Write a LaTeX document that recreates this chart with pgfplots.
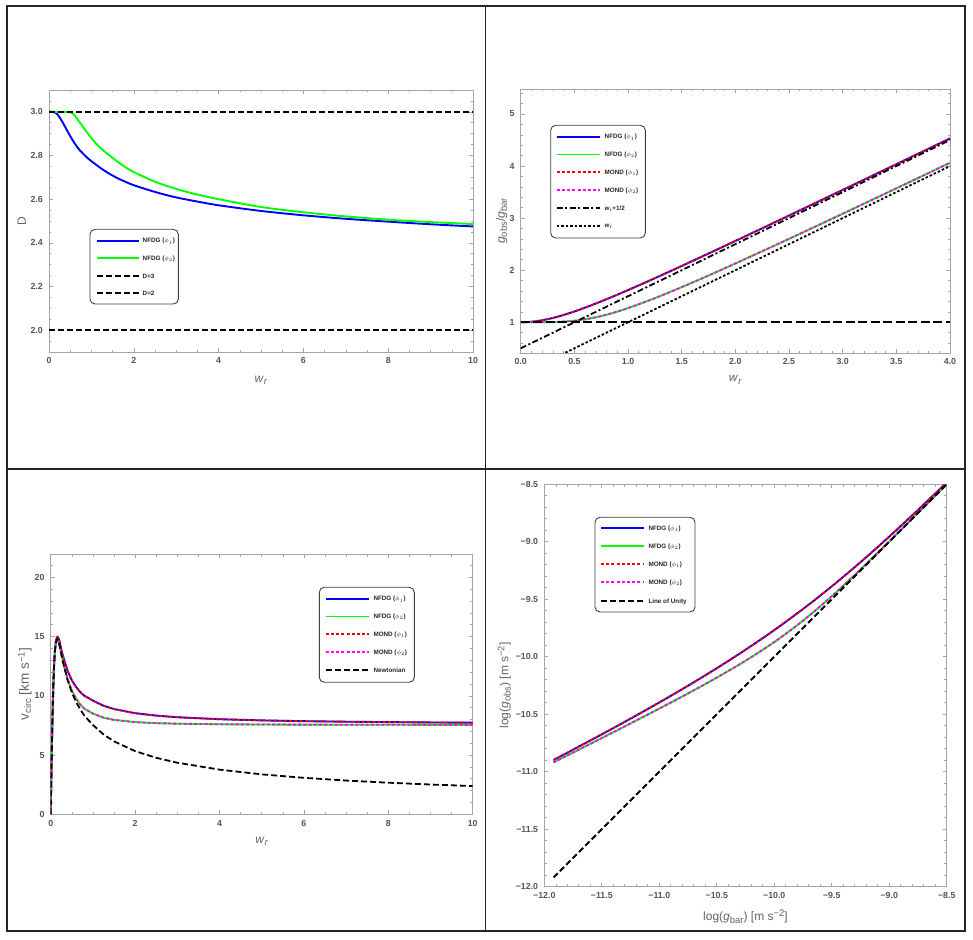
\documentclass[border=0pt]{standalone}
\usepackage{pgfplots}
\usepackage{pgfplotstable}
\pgfplotsset{compat=1.18}
\usepackage{fontspec}
\setmainfont{Liberation Sans}

\definecolor{tickgray}{RGB}{85,85,85}
\definecolor{labgray}{RGB}{100,100,100}
\definecolor{framegray}{RGB}{165,165,165}
\definecolor{mblue}{RGB}{0,0,255}
\definecolor{mgreen}{RGB}{0,255,0}
\definecolor{mred}{RGB}{255,0,0}
\definecolor{mmag}{RGB}{255,0,255}

\newcommand{\sbs}[1]{\raisebox{-2.2pt}{\fontsize{9.5}{10}\selectfont #1}}
\newcommand{\sps}[1]{\raisebox{4.2pt}{\fontsize{9.5}{10}\selectfont #1}}
\newcommand{\wsub}{\textit{w}\sbs{\textit{r}}}
\newcommand{\wsubs}{\textit{w}\textsubscript{\textit{r}}}
\newcommand{\legfont}{\fontsize{6.3}{7}\selectfont\bfseries}

\tikzset{
  tblue/.style={color=mblue, line width=1.9pt},
  tgreen/.style={color=mgreen, line width=1.9pt},
  tred/.style={color=mred, line width=1.8pt, dash pattern=on 3pt off 2.2pt},
  tmag/.style={color=mmag, line width=1.8pt, dash pattern=on 3pt off 2.2pt},
  tdash/.style={color=black, line width=1.8pt, dash pattern=on 6pt off 3pt},
  tdashdot/.style={color=black, line width=1.8pt, dash pattern=on 6pt off 2.5pt on 2pt off 2.5pt},
  tdot/.style={color=black, line width=1.8pt, dash pattern=on 2.5pt off 2pt},
}
% legend row: line start x, line end x, text x, row centre y (image coords, y down), style, text
\newcommand{\legrow}[6]{%
  \draw[#5] ({#1*1pt},{(939-#4)*1pt}) -- ({#2*1pt},{(939-#4)*1pt});
  \node[anchor=base west, inner sep=0pt, font=\legfont, text=black!85] at ({#3*1pt},{(939-#4-2.3)*1pt}) {#6};
}
\newcommand{\legbox}[4]{%
  \draw[black!75, line width=0.9pt, rounded corners=5pt, fill=white]
    ({#1*1pt},{(939-#2)*1pt}) rectangle ({#3*1pt},{(939-#4)*1pt});
}

\pgfplotsset{
  mma/.style={
    scale only axis, anchor=south west, no markers,
    axis line style={framegray, line width=0.7pt},
    every tick/.style={framegray, line width=0.6pt},
    major tick length=4pt, minor tick length=2.3pt,
    tick label style={font=\fontsize{8.8}{10}\selectfont\bfseries, text=tickgray, inner sep=0pt},
    xticklabel style={yshift=-5.5pt},
    yticklabel style={xshift=-6pt},
    label style={font=\fontsize{12}{14}\selectfont, text=labgray},
  },
}

% ---------- Panel 1 : D vs w_r ----------
\pgfplotstableread{
w D
0 3.000
0.10 2.999
0.15 2.996
0.20 2.988
0.25 2.975
0.30 2.959
0.35 2.942
0.40 2.924
0.50 2.889
0.60 2.857
0.70 2.830
0.80 2.809
0.90 2.790
1.00 2.774
1.25 2.738
1.50 2.708
1.75 2.684
2.00 2.664
2.50 2.633
3.00 2.608
3.50 2.589
4.00 2.572
5.00 2.546
6.00 2.526
7.00 2.510
8.00 2.497
9.00 2.485
10.0 2.475
}\DblueTab

\pgfplotstableread{
w D
0 3.000
0.40 3.000
0.45 2.9995
0.50 2.998
0.55 2.994
0.60 2.985
0.65 2.972
0.70 2.958
0.77 2.940
0.85 2.918
0.93 2.897
1.00 2.880
1.10 2.857
1.25 2.828
1.50 2.789
1.75 2.753
2.00 2.724
2.50 2.680
3.00 2.647
3.50 2.621
4.00 2.600
5.00 2.564
6.00 2.540
7.00 2.521
8.00 2.506
9.00 2.495
10.0 2.486
}\DgreenTab

% ---------- Panel 2 : g_obs/g_bar vs w_r ----------
\pgfplotstableread{
w nu1 nu2
0.0 1.00000 1.00000
0.1 1.00990 1.00005
0.2 1.03852 1.00080
0.3 1.08310 1.00401
0.4 1.14031 1.01241
0.5 1.20711 1.02909
0.6 1.28102 1.05647
0.7 1.36023 1.09548
0.8 1.44340 1.14550
0.9 1.52956 1.20495
1.0 1.61803 1.27202
1.2 1.80000 1.42279
1.4 1.98661 1.58832
1.6 2.17631 1.76306
1.8 2.36815 1.94380
2.0 2.56155 2.12864
2.5 3.04951 2.60191
3.0 3.54138 3.08446
3.5 4.03553 3.57214
4.0 4.53113 4.06298
}\nuTab

% ---------- Panel 3 : rotation curves ----------
\pgfplotstableread{
w vN v1 v2
0 0 0 0
0.005 1.073 1.073 1.073
0.02 4.200 4.201 4.200
0.04 7.840 7.846 7.840
0.06 10.640 10.659 10.640
0.08 12.560 12.600 12.560
0.10 13.760 13.828 13.760
0.12 14.430 14.532 14.431
0.14 14.730 14.871 14.731
0.157 14.800 14.977 14.802
0.18 14.680 14.909 14.684
0.20 14.450 14.726 14.456
0.25 13.550 13.944 13.563
0.30 12.720 13.238 12.745
0.40 11.350 12.120 11.420
0.50 10.300 11.317 10.449
0.60 9.500 10.752 9.765
0.70 8.850 10.322 9.263
0.80 8.320 9.996 8.905
0.90 7.930 9.807 8.705
1.00 7.543 9.595 8.507
1.25 6.747 9.168 8.161
1.50 6.159 8.885 7.971
2.00 5.334 8.537 7.782
2.50 4.771 8.332 7.696
3.00 4.355 8.195 7.649
4.00 3.771 8.027 7.601
5.00 3.373 7.928 7.580
6.00 3.079 7.862 7.568
7.00 2.851 7.817 7.562
8.00 2.667 7.783 7.558
9.00 2.514 7.754 7.554
10.0 2.385 7.733 7.551
}\vcTab

% ---------- Panel 4 : RAR ----------
\pgfplotstableread{
x y1 y2
-11.92 -10.8983 -10.9189
-11.75 -10.8086 -10.8334
-11.50 -10.6748 -10.7071
-11.25 -10.5381 -10.5799
-11.00 -10.3976 -10.4510
-10.75 -10.2520 -10.3190
-10.50 -10.0998 -10.1815
-10.25 -9.9392 -10.0347
-10.00 -9.7683 -9.8721
-9.75 -9.5850 -9.6863
-9.50 -9.3881 -9.4738
-9.25 -9.1777 -9.2407
-9.00 -8.9553 -8.9969
-8.75 -8.7232 -8.7490
-8.50 -8.4844 -8.4997
}\rarTab

\begin{document}
\begin{tikzpicture}
\path[use as bounding box] (0pt,0pt) rectangle (973pt,939pt);
\fill[white] (0pt,0pt) rectangle (973pt,939pt);

% ===== Panel 1 =====
\begin{axis}[mma, at={(49pt,587pt)}, width=424pt, height=262pt,
  xmin=0, xmax=10, ymin=1.9, ymax=3.1,
  xtick={0,2,4,6,8,10}, xticklabels={0,2,4,6,8,10},
  ytick={2,2.2,2.4,2.6,2.8,3}, yticklabels={2.0,2.2,2.4,2.6,2.8,3.0},
  minor xtick={0,0.5,...,10}, minor ytick={1.9,1.95,...,3.1},
  xlabel={\wsub}, ylabel={D},
  xlabel style={at={(axis description cs:0.5,-0.107)}, anchor=center},
  ylabel style={at={(axis description cs:-0.0644,0.5)}, anchor=center},
]
\addplot[tblue, smooth] table[x=w,y=D]{\DblueTab};
\addplot[tgreen, smooth] table[x=w,y=D]{\DgreenTab};
\addplot[tdash] coordinates {(0,3) (10,3)};
\addplot[tdash] coordinates {(0,2) (10,2)};
\end{axis}

% ===== Panel 2 =====
\begin{axis}[mma, at={(520.7pt,586pt)}, width=429.3pt, height=264pt,
  xmin=0, xmax=4, ymin=0.41, ymax=5.48,
  xtick={0,0.5,...,4}, xticklabels={0.0,0.5,1.0,1.5,2.0,2.5,3.0,3.5,4.0},
  ytick={1,2,3,4,5}, yticklabels={1,2,3,4,5},
  minor xtick={0,0.1,...,4}, minor ytick={0.6,0.8,...,5.4},
  xlabel={\wsub}, ylabel={\textit{g}\sbs{obs}/\textit{g}\sbs{bar}},
  xlabel style={at={(axis description cs:0.5,-0.102)}, anchor=center},
  ylabel style={at={(axis description cs:-0.0443,0.5)}, anchor=center},
]
\addplot[tblue, smooth] table[x=w,y=nu1]{\nuTab};
\addplot[tgreen, smooth] table[x=w,y=nu2]{\nuTab};
\addplot[tred, smooth] table[x=w,y=nu1]{\nuTab};
\addplot[tmag, smooth] table[x=w,y=nu2]{\nuTab};
\addplot[tdashdot] coordinates {(0,0.5) (4,4.5)};
\addplot[tdot] coordinates {(0,0) (4,4)};
\addplot[black, line width=1.8pt, dash pattern=on 9pt off 3.5pt] coordinates {(0,1) (4,1)};
\end{axis}

% ===== Panel 3 =====
\begin{axis}[mma, at={(50.7pt,124.7pt)}, width=422pt, height=260pt,
  xmin=0, xmax=10, ymin=0, ymax=21.95,
  xtick={0,2,4,6,8,10}, xticklabels={0,2,4,6,8,10},
  ytick={0,5,10,15,20}, yticklabels={0,5,10,15,20},
  minor xtick={0,0.5,...,10}, minor ytick={0,1,...,21},
  xlabel={\wsub}, ylabel={v\sbs{circ} [km s\sps{−1}]},
  xlabel style={at={(axis description cs:0.5,-0.105)}, anchor=center},
  ylabel style={at={(axis description cs:-0.061,0.5)}, anchor=center, font=\fontsize{13.5}{15}\selectfont},
]
\addplot[tblue] table[x=w,y=v1]{\vcTab};
\addplot[tgreen] table[x=w,y=v2]{\vcTab};
\addplot[tred] table[x=w,y=v1]{\vcTab};
\addplot[tmag] table[x=w,y=v2]{\vcTab};
\addplot[tdash] table[x=w,y=vN]{\vcTab};
\end{axis}

% ===== Panel 4 =====
\begin{axis}[mma, at={(544.3pt,52.3pt)}, width=402.4pt, height=402.4pt,
  xmin=-12, xmax=-8.5, ymin=-12, ymax=-8.5,
  xtick={-12,-11.5,-11,-10.5,-10,-9.5,-9,-8.5},
  xticklabels={−12.0,−11.5,−11.0,−10.5,−10.0,−9.5,−9.0,−8.5},
  ytick={-12,-11.5,-11,-10.5,-10,-9.5,-9,-8.5},
  yticklabels={−12.0,−11.5,−11.0,−10.5,−10.0,−9.5,−9.0,−8.5},
  minor xtick={-12,-11.9,...,-8.5}, minor ytick={-12,-11.9,...,-8.5},
  xlabel={log(\textit{g}\sbs{bar}) [m s\sps{−2}]},
  ylabel={log(\textit{g}\sbs{obs}) [m s\sps{−2}]},
  xlabel style={at={(axis description cs:0.5,-0.0746)}, anchor=center},
  ylabel style={at={(axis description cs:-0.0994,0.5)}, anchor=center},
]
\addplot[tblue, smooth] table[x=x,y=y1]{\rarTab};
\addplot[tgreen, smooth] table[x=x,y=y2]{\rarTab};
\addplot[tred, smooth] table[x=x,y=y1]{\rarTab};
\addplot[tmag, smooth] table[x=x,y=y2]{\rarTab};
\addplot[tdash] coordinates {(-11.92,-11.92) (-8.5,-8.5)};
\end{axis}

% ===== legends =====
\legbox{90}{229.3}{178.3}{304}
\legrow{96.7}{138.6}{142.5}{240.7}{tblue}{NFDG ($\phi_1$)}
\legrow{96.7}{138.6}{142.5}{258.3}{tgreen}{NFDG ($\phi_2$)}
\legrow{96.7}{138.6}{142.5}{276}{tdash}{D=3}
\legrow{96.7}{138.6}{142.5}{293.3}{tdash}{D=2}

\legbox{550.7}{125.3}{645.3}{238}
\legrow{556.7}{600}{604.5}{136.7}{tblue}{NFDG ($\phi_1$)}
\legrow{556.7}{600}{604.5}{154.5}{tgreen}{NFDG ($\phi_2$)}
\legrow{556.7}{600}{604.5}{172.3}{tred}{MOND ($\phi_1$)}
\legrow{556.7}{600}{604.5}{190.1}{tmag}{MOND ($\phi_2$)}
\legrow{556.7}{600}{604.5}{207.9}{tdashdot}{\wsubs+1/2}
\legrow{556.7}{600}{604.5}{225.7}{tdot}{\wsubs}

\legbox{319.3}{587.3}{414.3}{682.3}
\legrow{325.7}{369.3}{373.3}{598.7}{tblue}{NFDG ($\phi_1$)}
\legrow{325.7}{369.3}{373.3}{616.5}{tgreen}{NFDG ($\phi_2$)}
\legrow{325.7}{369.3}{373.3}{634.3}{tred}{MOND ($\phi_1$)}
\legrow{325.7}{369.3}{373.3}{652.1}{tmag}{MOND ($\phi_2$)}
\legrow{325.7}{369.3}{373.3}{669.9}{tdash}{Newtonian}

\legbox{595}{517.3}{695}{612}
\legrow{601}{644.3}{648.3}{528.3}{tblue}{NFDG ($\phi_1$)}
\legrow{601}{644.3}{648.3}{546.3}{tgreen}{NFDG ($\phi_2$)}
\legrow{601}{644.3}{648.3}{564.3}{tred}{MOND ($\phi_1$)}
\legrow{601}{644.3}{648.3}{582.3}{tmag}{MOND ($\phi_2$)}
\legrow{601}{644.3}{648.3}{600.8}{tdash}{Line of Unity}

% ===== panel frames =====
\draw[black!85, line width=1.3pt] (7pt,8pt) rectangle (965pt,933pt);
\draw[black!85, line width=1.3pt] (485.5pt,8pt) -- (485.5pt,933pt);
\draw[black!85, line width=1.3pt] (7pt,470pt) -- (965pt,470pt);
\end{tikzpicture}
\end{document}
